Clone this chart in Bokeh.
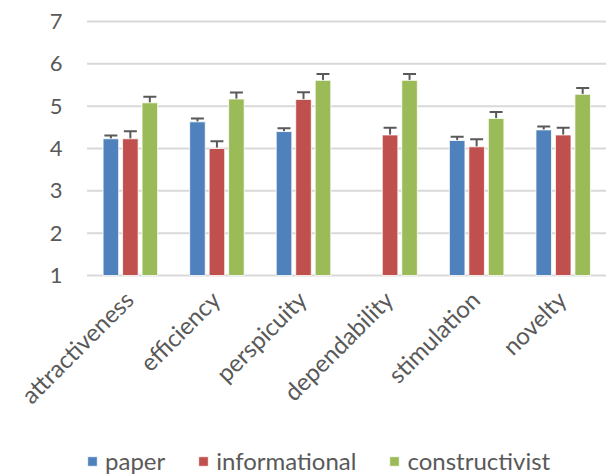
import math
from bokeh.plotting import figure
from bokeh.models import (ColumnDataSource, Range1d, FactorRange, Legend, LegendItem,
                          Whisker, TeeHead)
from bokeh.core.properties import value
from bokeh.transform import dodge
from bokeh.embed import file_html
from bokeh.resources import INLINE

categories = ["attractiveness", "efficiency", "perspicuity", "dependability", "stimulation", "novelty"]
paper = [4.23, 4.63, 4.40, float("nan"), 4.19, 4.44]
paper_err = [0.08, 0.08, 0.08, float("nan"), 0.09, 0.08]
informational = [4.23, 4.00, 5.16, 4.32, 4.04, 4.32]
informational_err = [0.18, 0.17, 0.17, 0.17, 0.18, 0.17]
constructivist = [5.08, 5.17, 5.61, 5.61, 4.71, 5.28]
constructivist_err = [0.14, 0.15, 0.15, 0.15, 0.15, 0.15]
series_names = ["paper", "informational", "constructivist"]
y_ticks = [1, 2, 3, 4, 5, 6, 7]
y_tick_labels = [str(t) for t in y_ticks]

colors = ["#4F81BD", "#C0504D", "#9BBB59"]
offsets = [-0.225, 0.0, 0.225]
FONT = "Lato"
TXT = "#595959"
PAD = " "  # empty slot at the left that holds the value labels

# the frame covers the whole figure so that rotated labels and legend are not clipped
p = figure(x_range=FactorRange(factors=[PAD] + categories), y_range=Range1d(-3.724, 7.496),
           width=606, height=475, x_axis_location=None, y_axis_location=None,
           output_backend="svg", toolbar_location=None,
           min_border_left=0, min_border_right=0, min_border_top=0, min_border_bottom=0)
p.outline_line_color = None
p.xgrid.grid_line_color = None
p.ygrid.grid_line_color = None

# horizontal gridlines at the value ticks, spanning the category area
grid_src = ColumnDataSource(dict(y=y_ticks, first=[categories[0]] * len(y_ticks),
                                 last=[categories[-1]] * len(y_ticks),
                                 pad=[PAD] * len(y_ticks), lab=y_tick_labels))
p.segment(x0=dodge("first", -0.5, range=p.x_range), y0="y",
          x1=dodge("last", 0.5, range=p.x_range), y1="y",
          source=grid_src, line_color="#D9D9D9", line_width=2)
# value tick labels
p.text(x=dodge("pad", 0.216, range=p.x_range), y="y", text="lab", source=grid_src,
       text_align="right", text_baseline="middle",
       text_font=value(FONT), text_font_size="22px", text_color=TXT)

items = []
for name, vals, errs, col, off in zip(series_names,
                                      [paper, informational, constructivist],
                                      [paper_err, informational_err, constructivist_err],
                                      colors, offsets):
    src = ColumnDataSource(dict(cat=categories, top=vals))
    r = p.vbar(x=dodge("cat", off, range=p.x_range), top="top", bottom=1, width=0.18,
               source=src, fill_color=col, line_color="white", line_width=0.8)
    items.append(LegendItem(label=name, renderers=[r]))
    keep = [i for i, v in enumerate(vals) if not math.isnan(v)]
    err_src = ColumnDataSource(dict(cat=[categories[i] for i in keep],
                                    upper=[vals[i] + errs[i] for i in keep],
                                    lower=[vals[i] - errs[i] for i in keep]))
    w = Whisker(base=dodge("cat", off, range=p.x_range), upper="upper", lower="lower",
                source=err_src, line_color="#595959", line_width=2,
                upper_head=TeeHead(size=13, line_color="#595959", line_width=2),
                lower_head=TeeHead(size=13, line_color="#595959", line_width=2))
    p.add_layout(w)

# category labels (rotated 45 degrees) below the baseline
lab_src = ColumnDataSource(dict(cat=categories))
p.text(x=dodge("cat", -0.02, range=p.x_range), y=0.54, text="cat", source=lab_src,
       angle=math.pi / 4, text_align="right", text_baseline="middle",
       text_font=value(FONT), text_font_size="24px", text_color=TXT)

legend = Legend(items=items, orientation="horizontal", location=(86, 0),
                glyph_width=12, glyph_height=12, label_standoff=7, spacing=32,
                label_text_font=FONT, label_text_font_size="24px", label_text_color=TXT,
                border_line_color=None, background_fill_alpha=0,
                margin=0, padding=0)
p.add_layout(legend, "center")

open("out.html", "w").write(file_html(p, INLINE))
